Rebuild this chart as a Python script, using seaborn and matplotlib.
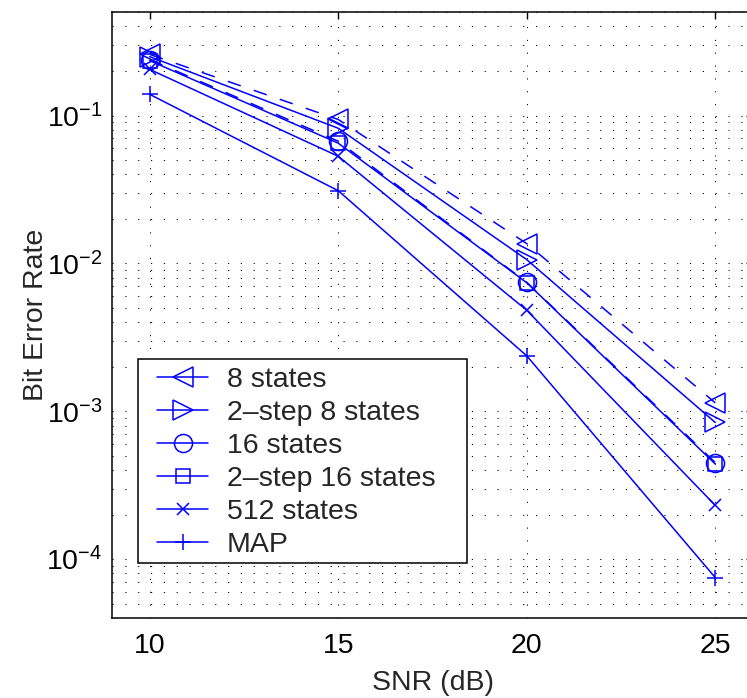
import matplotlib
matplotlib.use('Agg')
import matplotlib.pyplot as plt
import matplotlib.ticker as ticker
import matplotlib.patches as patches
import seaborn as sns

# Dados (SNR em dB e BER de cada detector)
snr = [10, 15, 20, 25]
ber_8 = [0.259, 0.094, 0.0136, 0.00114]
ber_2step_8 = [0.25, 0.082, 0.0106, 0.00084]
ber_16 = [0.239, 0.067, 0.00745, 0.00045]
ber_2step_16 = [0.235, 0.065, 0.0074, 0.00044]
ber_512 = [0.205, 0.053, 0.00482, 0.000231]
ber_map = [0.139, 0.031, 0.00237, 0.000075]

labels = ['8 states', '2\u2013step 8 states', '16 states',
          '2\u2013step 16 states', '512 states', 'MAP']

sns.set_style("white")
plt.rcParams['font.family'] = ['Liberation Sans', 'DejaVu Sans']
plt.rcParams['mathtext.fontset'] = 'custom'
plt.rcParams['mathtext.rm'] = 'Liberation Sans'
plt.rcParams['mathtext.it'] = 'Liberation Sans:italic'
plt.rcParams['mathtext.bf'] = 'Liberation Sans:bold'

FS = 20.5

fig = plt.figure(figsize=(7.47, 6.98), dpi=100)
ax = fig.add_axes([0.150, 0.1146, 0.858, 0.868])

tracejado = (0, (9, 9))
series = [
    (ber_8, '<', tracejado, 14),
    (ber_2step_8, '>', '-', 14),
    (ber_16, 'o', tracejado, 13),
    (ber_2step_16, 's', '-', 10),
    (ber_512, 'x', '-', 9),
    (ber_map, '+', '-', 12),
]

for (vals, mk, ls, ms), lab in zip(series, labels):
    sns.lineplot(x=snr, y=vals, ax=ax, color='blue', marker=mk, linestyle=ls,
                 markersize=ms, markerfacecolor='none', markeredgecolor='blue',
                 markeredgewidth=1.1, linewidth=1.1, label=lab)

ax.set_yscale('log')
ax.set_xlim(9, 26)
ax.set_ylim(4e-5, 0.5)
ax.set_xticks([10, 15, 20, 25])
ax.yaxis.set_major_locator(ticker.LogLocator(base=10))
ax.yaxis.set_minor_locator(ticker.LogLocator(base=10, subs=range(2, 10)))
ax.yaxis.set_minor_formatter(ticker.NullFormatter())

# grade pontilhada estilo MATLAB
pontilhado = (0, (1.2, 12))
ax.grid(True, which='major', axis='both', color='black', linestyle=pontilhado, linewidth=0.7)
ax.grid(True, which='minor', axis='y', color='black', linestyle=pontilhado, linewidth=0.7)

ax.tick_params(which='both', direction='in', top=True, right=True, labelsize=FS, colors='black')
ax.tick_params(which='major', length=5, width=1)
ax.tick_params(which='minor', length=3, width=0.8)
ax.tick_params(axis='x', pad=11)
ax.tick_params(axis='y', pad=7)
for s in ax.spines.values():
    s.set_color('black')
    s.set_linewidth(1.1)

ax.set_xlabel('SNR (dB)', fontsize=FS, labelpad=8)
ax.set_ylabel('Bit Error Rate', fontsize=FS, labelpad=-2)

# Caixa da legenda desenhada à parte (padding estilo MATLAB)
caixa = patches.Rectangle((0.0406, 0.0908), 0.5132, 0.3366, transform=ax.transAxes,
                          facecolor='white', edgecolor='black', linewidth=1.1, zorder=4)
ax.add_patch(caixa)

leg = ax.legend(loc='center left', bbox_to_anchor=(0.0702, 0.2566), borderaxespad=0,
                fontsize=FS, handlelength=1.79, handletextpad=0.67, labelspacing=0.245,
                frameon=False, borderpad=0)
leg.set_zorder(5)
for h in leg.get_lines():
    h.set_linestyle('-')

plt.savefig('out.png', dpi=100)
plt.close()
